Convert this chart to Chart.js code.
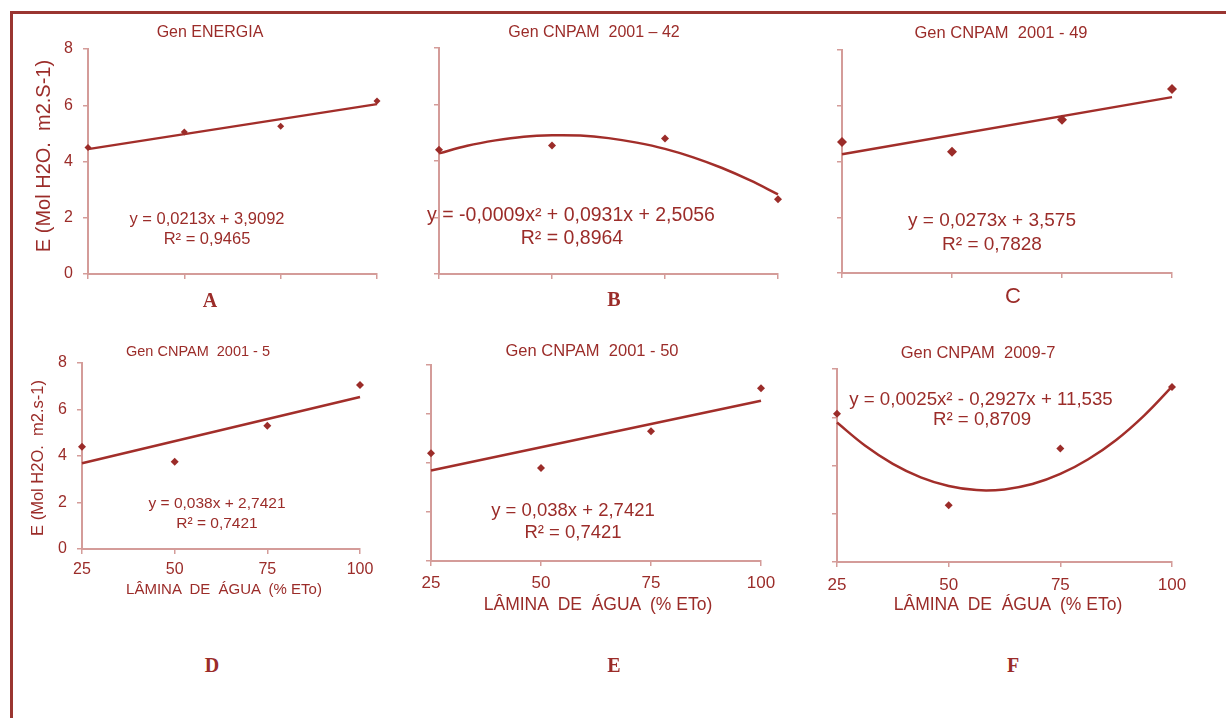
<!DOCTYPE html>
<html>
<head>
<meta charset="utf-8">
<script src="https://cdn.jsdelivr.net/npm/chart.js@4.4.1/dist/chart.umd.min.js"></script>
<style>
  body { margin: 0; background: #fff; }
  #page { position: relative; width: 1226px; height: 718px; overflow: hidden;
          font-family: 'Liberation Sans', Arial, sans-serif; color: #9b2c29; }
  #frame { position: absolute; left: 10px; top: 11px; width: 1240px; height: 740px;
           border-top: 3px solid #9a3531; border-left: 3px solid #9a3531; }
  canvas { position: absolute; }
  .lbl { position: absolute; white-space: pre; line-height: 1; transform: translate(-50%, -50%); }
  .vert { transform: translate(-50%, -50%) rotate(-90deg); }
  .letter { font-family: 'Liberation Serif', serif; font-weight: bold; font-size: 20px; }
</style>
</head>
<body>
<div id="page">
  <div id="frame"></div>
</div>
<script>
// irrigation levels (% ETo)
const lamina = [25, 50, 75, 100];

// transpiration E per genotype
const energia   = [4.5, 5.05, 5.25, 6.15];
const cnpam42   = [4.4, 4.55, 4.8, 2.65];
const cnpam49   = [4.7, 4.35, 5.5, 6.6];
const cnpam5    = [4.4, 3.75, 5.3, 7.05];
const cnpam50   = [4.4, 3.8, 5.3, 7.05];
const cnpam2009 = [6.15, 2.35, 4.7, 7.25];

// linear trend ends
const lineX = [25, 100];
const trendEnergia = [4.44, 6.04];
const trend49 = [4.26, 6.31];
const trend5 = [3.69, 6.54];
const trend50 = [3.69, 6.54];

// quadratic trend curves
const curveX = [25, 31.25, 37.5, 43.75, 50, 56.25, 62.5, 68.75, 75, 81.25, 87.5, 93.75, 100];
const curve42 = [4.27, 4.54, 4.73, 4.86, 4.91, 4.9, 4.81, 4.65, 4.43, 4.13, 3.76, 3.32, 2.82];
const curve2009 = [5.78, 4.83, 4.07, 3.51, 3.15, 2.98, 3.01, 3.23, 3.65, 4.26, 5.06, 6.07, 7.27];

const yTicks = [0, 2, 4, 6, 8];

const RED = '#9b2c29';
const LINE = '#a22e2a';
const AXIS = '#d49c99';
const FONT = "'Liberation Sans', Arial, sans-serif";

const page = document.getElementById('page');
// canvas margins around the plot area (top must cover the y label padding)
const ML = 40, MR = 24, MT = 22, MB = 36;

function panel(area, obs, tx, ty, o) {
  const [x0, x1, y0, y1] = area;
  const w = x1 - x0 + ML + MR, h = y1 - y0 + MT + MB;
  const cv = document.createElement('canvas');
  cv.width = w; cv.height = h;
  cv.style.left = (x0 - ML) + 'px';
  cv.style.top = (y0 - MT) + 'px';
  cv.style.width = w + 'px';
  cv.style.height = h + 'px';
  page.appendChild(cv);

  const axisGrid = { drawOnChartArea: false, drawTicks: true, tickLength: 5, color: AXIS, lineWidth: 1.5 };
  const hidden = 'rgba(0,0,0,0)';

  new Chart(cv, {
    type: 'scatter',
    data: {
      datasets: [
        {
          data: lamina.map((x, i) => ({ x: x, y: obs[i] })),
          pointStyle: 'rectRot',
          pointRadius: o.marker || 4,
          backgroundColor: RED,
          borderColor: RED,
          borderWidth: 0,
          clip: false
        },
        {
          type: 'line',
          data: tx.map((x, i) => ({ x: x, y: ty[i] })),
          borderColor: LINE,
          borderWidth: 2.5,
          pointRadius: 0,
          tension: tx.length > 2 ? 0.4 : 0,
          fill: false,
          clip: false
        }
      ]
    },
    options: {
      responsive: false,
      animation: false,
      layout: { padding: { left: 0, right: MR, top: MT, bottom: 0 } },
      scales: {
        x: {
          type: 'linear', min: 25, max: 100,
          afterFit: s => { s.height = MB; },
          afterBuildTicks: s => { s.ticks = lamina.map(v => ({ value: v })); },
          ticks: { color: o.xLabels ? RED : hidden, font: { family: FONT, size: o.tickSize || 16 }, padding: o.xPad || 6 },
          grid: axisGrid,
          border: { color: AXIS, width: 2 }
        },
        y: {
          min: 0, max: 8,
          afterFit: s => { s.width = ML; },
          afterBuildTicks: s => { s.ticks = yTicks.map(v => ({ value: v })); },
          ticks: { color: o.yLabels ? RED : hidden, font: { family: FONT, size: 16 }, padding: 10 },
          grid: axisGrid,
          border: { color: AXIS, width: 2 }
        }
      },
      plugins: { legend: { display: false }, tooltip: { enabled: false } }
    }
  });
}

function label(text, x, y, size, cls) {
  const d = document.createElement('div');
  d.className = 'lbl' + (cls ? ' ' + cls : '');
  d.textContent = text;
  d.style.left = x + 'px';
  d.style.top = y + 'px';
  if (size) d.style.fontSize = size + 'px';
  page.appendChild(d);
}

// top row
panel([88, 377, 49, 274], energia, lineX, trendEnergia, { yLabels: true, marker: 3.5 });
panel([439, 778, 48, 274], cnpam42, curveX, curve42, {});
panel([842, 1172, 50, 273], cnpam49, lineX, trend49, { marker: 5 });
// bottom row
panel([82, 360, 363, 549], cnpam5, lineX, trend5, { yLabels: true, xLabels: true, xPad: 6 });
panel([431, 761, 365, 561], cnpam50, lineX, trend50, { xLabels: true, tickSize: 17, xPad: 7 });
panel([837, 1172, 369, 562], cnpam2009, curveX, curve2009, { xLabels: true, tickSize: 17, xPad: 8 });

// titles
label('Gen ENERGIA', 210, 32, 16);
label('Gen CNPAM  2001 – 42', 594, 32, 16);
label('Gen CNPAM  2001 - 49', 1001, 32, 16.5);
label('Gen CNPAM  2001 - 5', 198, 351, 14.5);
label('Gen CNPAM  2001 - 50', 592, 350, 16.5);
label('Gen CNPAM  2009-7', 978, 352, 16.5);

// axis titles
label('E (Mol H2O.  m2.S-1)', 43, 156, 20, 'vert');
label('E (Mol H2O.  m2.s-1)', 37, 458, 16.5, 'vert');
label('LÂMINA  DE  ÁGUA  (% ETo)', 224, 588, 15);
label('LÂMINA  DE  ÁGUA  (% ETo)', 598, 605, 17.5);
label('LÂMINA  DE  ÁGUA  (% ETo)', 1008, 605, 17.5);

// regression equations
label('y = 0,0213x + 3,9092', 207, 218, 16.5);
label('R² = 0,9465', 207, 238, 16.5);
label('y = -0,0009x² + 0,0931x + 2,5056', 571, 215, 19.5);
label('R² = 0,8964', 572, 238, 19.5);
label('y = 0,0273x + 3,575', 992, 219, 19);
label('R² = 0,7828', 992, 243, 19);
label('y = 0,038x + 2,7421', 217, 503, 15.5);
label('R² = 0,7421', 217, 523, 15.5);
label('y = 0,038x + 2,7421', 573, 510, 18.5);
label('R² = 0,7421', 573, 532, 18.5);
label('y = 0,0025x² - 0,2927x + 11,535', 981, 399, 18.7);
label('R² = 0,8709', 982, 419, 18.7);

// panel letters
label('A', 210, 300, null, 'letter');
label('B', 614, 299, null, 'letter');
label('C', 1013, 296, 22);
label('D', 212, 665, null, 'letter');
label('E', 614, 665, null, 'letter');
label('F', 1013, 665, null, 'letter');
</script>
</body>
</html>
